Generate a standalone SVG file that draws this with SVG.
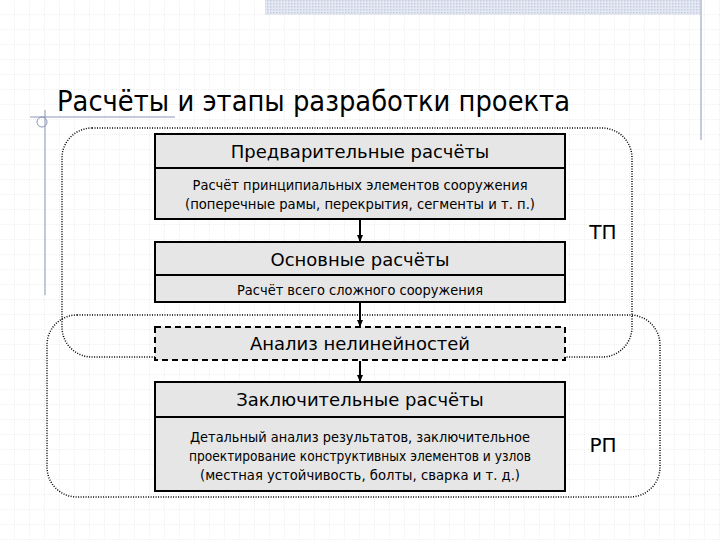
<svg xmlns="http://www.w3.org/2000/svg" width="720" height="540" viewBox="0 0 720 540">
<defs>
<pattern id="grid" width="15" height="15" patternUnits="userSpaceOnUse"><path d="M15 0V15H0" fill="none" stroke="#d8d8d8" stroke-width="0.8" stroke-dasharray="1 1"/></pattern>
<pattern id="hatch" width="3" height="3" patternUnits="userSpaceOnUse"><rect width="3" height="3" fill="#e4e8f2"/><rect width="1.5" height="1.5" fill="#c4cce0"/></pattern>
<marker id="ar" markerWidth="8" markerHeight="8" refX="7" refY="4" orient="auto" markerUnits="userSpaceOnUse"><path d="M0 1L7 4L0 7Z" fill="#000"/></marker>
</defs>
<style>
text{font-family:"DejaVu Sans",Verdana,sans-serif;fill:#000;text-anchor:middle}
.box{fill:#e6e6e6;stroke:#000;stroke-width:2}
.dash{fill:#e6e6e6;stroke:#000;stroke-width:2;stroke-dasharray:6 4}
.grp{fill:none;stroke:#000;stroke-width:1.5;stroke-dasharray:1 1.5}
.h{font-size:18px}
.s{font-size:14px}
.con{stroke:#000;stroke-width:2;marker-end:url(#ar)}
</style>
<rect width="720" height="540" fill="#fff"/>
<rect width="720" height="540" fill="url(#grid)"/>
<rect x="265" y="0" width="435" height="15" fill="url(#hatch)"/>
<line x1="701" y1="0" x2="701" y2="140" stroke="#8a94b8" stroke-width="1"/>
<line x1="45" y1="110" x2="45" y2="295" stroke="#8a94b8" stroke-width="1"/>
<line x1="30" y1="117" x2="175" y2="117" stroke="#8a94b8" stroke-width="1"/>
<circle cx="42" cy="122" r="5" fill="none" stroke="#8a94b8" stroke-width="1"/>
<text x="57" y="111" textLength="513" lengthAdjust="spacingAndGlyphs" style="font-size:29px;text-anchor:start">Расчёты и этапы разработки проекта</text>
<g id="groupTP"><rect class="grp" x="62" y="128" width="570" height="229" rx="30"/><text x="603" y="239" style="font-size:20px">ТП</text></g>
<g id="groupRP"><rect class="grp" x="47" y="315" width="613" height="182" rx="30"/><text x="603" y="452" style="font-size:20px">РП</text></g>
<g id="connectors">
<line class="con" x1="360" y1="220" x2="360" y2="242"/>
<line class="con" x1="360" y1="303" x2="360" y2="327"/>
<line class="con" x1="360" y1="361" x2="360" y2="382"/>
</g>
<g id="n1"><rect class="box" x="155" y="134" width="410" height="85"/><line x1="155" y1="168" x2="565" y2="168" stroke="#000" stroke-width="2"/>
<text class="h" x="360" y="158">Предварительные расчёты</text>
<text class="s" x="360" y="190" textLength="335" lengthAdjust="spacingAndGlyphs">Расчёт принципиальных элементов сооружения</text>
<text class="s" x="360" y="209" textLength="350" lengthAdjust="spacingAndGlyphs">(поперечные рамы, перекрытия, сегменты и т. п.)</text></g>
<g id="n2"><rect class="box" x="155" y="242" width="410" height="60"/><line x1="155" y1="275" x2="565" y2="275" stroke="#000" stroke-width="2"/>
<text class="h" x="360" y="266">Основные расчёты</text>
<text class="s" x="360" y="295" textLength="246" lengthAdjust="spacingAndGlyphs">Расчёт всего сложного сооружения</text></g>
<g id="n3"><rect class="dash" x="155" y="327" width="410" height="33"/><text class="h" x="360" y="350">Анализ нелинейностей</text></g>
<g id="n4"><rect class="box" x="155" y="382" width="410" height="109"/><line x1="155" y1="417" x2="565" y2="417" stroke="#000" stroke-width="2"/>
<text class="h" x="360" y="406">Заключительные расчёты</text>
<text class="s" x="360" y="442" textLength="340" lengthAdjust="spacingAndGlyphs">Детальный анализ результатов, заключительное</text>
<text class="s" x="360" y="461" textLength="342" lengthAdjust="spacingAndGlyphs">проектирование конструктивных элементов и узлов</text>
<text class="s" x="360" y="480" textLength="320" lengthAdjust="spacingAndGlyphs">(местная устойчивость, болты, сварка и т. д.)</text></g>
</svg>
